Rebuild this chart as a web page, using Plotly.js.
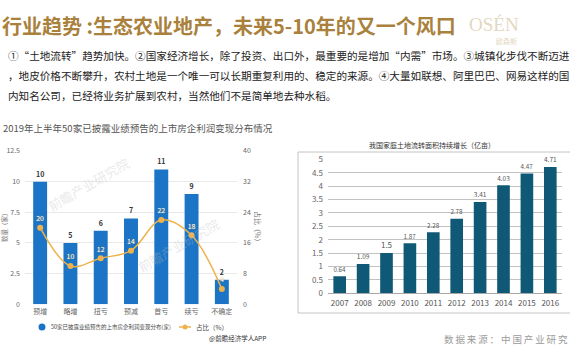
<!DOCTYPE html>
<html>
<head>
<meta charset="utf-8">
<script src="https://cdn.plot.ly/plotly-3.0.1.min.js"></script>
<style>html,body{margin:0;padding:0;background:#fff;}#chart{width:570px;height:360px;}</style>
</head>
<body>
<div id="chart"></div>
<script>
// ---- data ----
const leftCats = ['预增', '略增', '扭亏', '预减', '首亏', '续亏', '不确定'];
const leftCounts = [10, 5, 6, 7, 11, 9, 2];
const leftShare = [20, 10, 12, 14, 22, 18, 4];
const years = ['2007', '2008', '2009', '2010', '2011', '2012', '2013', '2014', '2015', '2016'];
const landArea = [0.64, 1.09, 1.5, 1.87, 2.28, 2.78, 3.41, 4.03, 4.47, 4.71];

const W = 570, H = 360;
const px = v => v / W;
const py = v => 1 - v / H;
const FONT = 'Noto Sans CJK SC, Noto Sans, sans-serif';

const traces = [
  {
    type: 'bar', x: leftCats, y: leftCounts, xaxis: 'x', yaxis: 'y',
    marker: {color: '#1b74c5'}, width: 0.46,
    text: leftCounts.map(String), textposition: 'outside', cliponaxis: false,
    textfont: {size: 7, color: '#333', weight: 'bold'},
    hoverinfo: 'none', showlegend: false
  },
  {
    type: 'scatter', mode: 'lines+markers+text', x: leftCats, y: leftShare, xaxis: 'x', yaxis: 'y2',
    line: {shape: 'spline', color: '#efb24a', width: 1.5},
    marker: {size: 6, color: '#efb24a'},
    text: leftShare.map(String), textposition: 'top center', cliponaxis: false,
    textfont: {size: 7, color: '#ffffff', shadow: '0 0 1.5px #c9953a'},
    hoverinfo: 'none', showlegend: false
  },
  {
    type: 'bar', x: years, y: landArea, xaxis: 'x2', yaxis: 'y3',
    marker: {color: '#0f5876'}, width: 0.54,
    text: landArea.map(String), textposition: 'outside', cliponaxis: false,
    textfont: {size: 8, color: '#555'},
    hoverinfo: 'none', showlegend: false
  }
];

const ann = (text, x, y, o) => Object.assign({
  text, x: px(x), y: py(y), xref: 'paper', yref: 'paper', showarrow: false,
  xanchor: 'left', yanchor: 'middle', font: {family: FONT, size: 10, color: '#222'}
}, o || {});

const sp = s => s.split('').join('\u2009');

const annotations = [
  ann('行业趋势 :生态农业地产，未来5-10年的又一个风口', 0, 26, {font: {family: FONT, size: 20, color: '#a9813c', weight: 'bold'}}),
  ann('OSÉN', 467, 25, {font: {family: 'Liberation Serif, DejaVu Serif, serif', size: 19, color: '#e3d7c1'}}),
  ann('欧森斯', 494, 41, {font: {family: FONT, size: 7, color: '#e3d7c1'}}),
  ann('①“土地流转”趋势加快。②国家经济增长，除了投资、出口外，最重要的是增加“内需”市场。③城镇化步伐不断迈进', 6, 55, {font: {family: FONT, size: 10.6, color: '#222'}}),
  ann('，地皮价格不断攀升，农村土地是一个唯一可以长期重复利用的、稳定的来源。④大量如联想、阿里巴巴、网易这样的国', 6, 75, {font: {family: FONT, size: 10.6, color: '#222'}}),
  ann('内知名公司，已经将业务扩展到农村，当然他们不是简单地去种水稻。', 6, 96, {font: {family: FONT, size: 10.6, color: '#222'}}),
  ann('2019年上半年50家已披露业绩预告的上市房企利润变现分布情况', 1, 128, {font: {family: FONT, size: 9.5, color: '#555'}}),
  ann('我国家庭土地流转面积持续增长（亿亩）', 432, 145, {xanchor: 'center', font: {family: FONT, size: 7, color: '#333'}}),
  ann(sp('数据来源：中国产业研究'), 442, 339, {font: {family: FONT, size: 9.5, color: '#9a9a9a'}}),
  ann('@前瞻经济学人APP', 207, 338, {font: {family: FONT, size: 6.5, color: '#333'}}),
  ann('50家已披露业绩预告的上市房企利润变现分布(家)', 49, 327, {font: {family: FONT, size: 5.5, color: '#444'}}),
  ann('占比（%）', 194, 327, {font: {family: FONT, size: 6.5, color: '#444'}}),
  ann('数量（家）', 4, 226, {xanchor: 'center', textangle: -90, font: {family: FONT, size: 6.5, color: '#777'}}),
  ann('占比（%）', 258, 228, {xanchor: 'center', textangle: 90, font: {family: FONT, size: 7, color: '#777'}}),
  ann('前瞻产业研究院', 88, 184, {xanchor: 'center', textangle: -30, font: {family: FONT, size: 13, color: 'rgba(190,190,190,0.35)'}}),
  ann('前瞻产业研究院', 178, 245, {xanchor: 'center', textangle: -30, font: {family: FONT, size: 13, color: 'rgba(190,190,190,0.35)'}})
];

const shapes = [
  {type: 'rect', xref: 'paper', yref: 'paper', x0: px(298), x1: px(580), y0: py(313), y1: py(152),
   line: {color: '#c4c4c4', width: 1}, fillcolor: 'rgba(0,0,0,0)'},
  {type: 'circle', xref: 'paper', yref: 'paper', x0: px(38.5), x1: px(45.5), y0: py(330.5), y1: py(323.5),
   line: {width: 0}, fillcolor: '#1b74c5'},
  {type: 'line', xref: 'paper', yref: 'paper', x0: px(179), x1: px(191), y0: py(327), y1: py(327),
   line: {color: '#efb24a', width: 1.5}},
  {type: 'circle', xref: 'paper', yref: 'paper', x0: px(182.5), x1: px(187.5), y0: py(329.5), y1: py(324.5),
   line: {width: 0}, fillcolor: '#efb24a'}
];

const layout = {
  width: W, height: H, autosize: false,
  margin: {l: 0, r: 0, t: 0, b: 0, pad: 0},
  paper_bgcolor: '#ffffff', plot_bgcolor: 'rgba(0,0,0,0)',
  font: {family: FONT, size: 8, color: '#666'},
  showlegend: false,
  xaxis: {domain: [px(25), px(237)], anchor: 'y', type: 'category',
    showgrid: false, zeroline: false, showline: false, ticks: '',
    tickfont: {size: 7, color: '#666'}, ticklabelstandoff: 2, fixedrange: true},
  yaxis: {domain: [py(304.3), py(151)], anchor: 'x', range: [0, 12.5], dtick: 2.5,
    showgrid: true, gridcolor: '#e9e9e9', gridwidth: 1, zeroline: false, showline: false, ticks: '',
    tickfont: {size: 7, color: '#666'}, ticklabelstandoff: 4},
  yaxis2: {overlaying: 'y', side: 'right', anchor: 'x', range: [0, 40], dtick: 8,
    showgrid: false, zeroline: false, showline: false, ticks: '',
    tickfont: {size: 7, color: '#666'}, ticklabelstandoff: 5},
  xaxis2: {domain: [px(328), px(562)], anchor: 'y3', type: 'category',
    showgrid: false, zeroline: false, showline: true, linecolor: '#a8a8a8', linewidth: 1, ticks: '',
    tickfont: {size: 8, color: '#555'}, ticklabelstandoff: 2},
  yaxis3: {domain: [py(293.3), py(159.3)], anchor: 'x2', range: [0, 5], dtick: 0.5,
    showgrid: true, gridcolor: '#c2c2c2', gridwidth: 1, zeroline: false, showline: false, ticks: '',
    tickfont: {size: 8, color: '#666'}, ticklabelstandoff: 4},
  annotations, shapes
};

Plotly.newPlot('chart', traces, layout, {displayModeBar: false, staticPlot: true});
</script>
</body>
</html>
